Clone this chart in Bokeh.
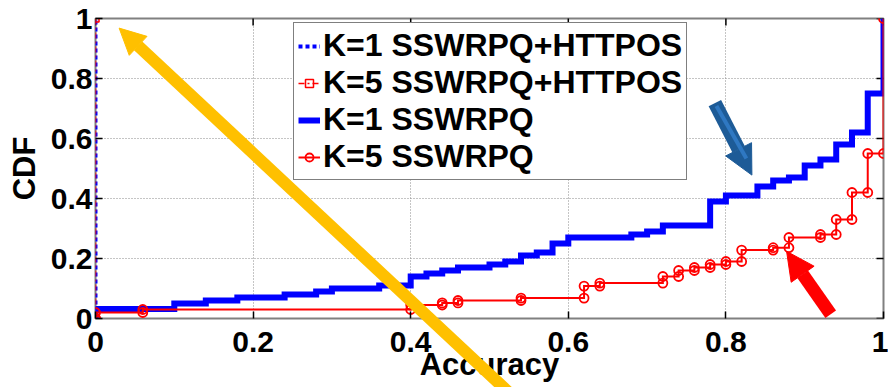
import math
from bokeh.plotting import figure
from bokeh.models import (Range1d, FixedTicker, Legend, LegendItem,
                          Arrow, NormalHead, GridBox, Column)
from bokeh.embed import file_html
from bokeh.resources import INLINE

# ---------------- data ----------------
x_ticks = [0, 0.2, 0.4, 0.6, 0.8, 1.0]
x_tick_labels = ["0", "0.2", "0.4", "0.6", "0.8", "1"]
y_ticks = [0, 0.2, 0.4, 0.6, 0.8, 1.0]
y_tick_labels = ["0", "0.2", "0.4", "0.6", "0.8", "1"]

series_labels = ["K=1 SSWRPQ+HTTPOS", "K=5 SSWRPQ+HTTPOS", "K=1 SSWRPQ", "K=5 SSWRPQ"]

httpos_k1_acc = [0.0, 0.0]
httpos_k1_cdf = [0.0, 1.0]
httpos_k5_acc = [0.0, 0.0]
httpos_k5_cdf = [0.0, 1.0]

k1_acc = [0.0, 0.0, 0.10, 0.14, 0.18, 0.24, 0.28, 0.30, 0.36, 0.40, 0.42, 0.44, 0.46,
          0.50, 0.52, 0.54, 0.56, 0.58, 0.60, 0.68, 0.70, 0.72, 0.78, 0.80, 0.84,
          0.86, 0.88, 0.90, 0.92, 0.94, 0.96, 0.98, 1.0]
k1_cdf = [0.0, 0.032, 0.05, 0.06, 0.07, 0.08, 0.09, 0.10, 0.11, 0.14, 0.15, 0.16, 0.17,
          0.18, 0.19, 0.21, 0.22, 0.25, 0.27, 0.28, 0.29, 0.31, 0.39, 0.41, 0.44,
          0.46, 0.47, 0.51, 0.53, 0.58, 0.62, 0.75, 1.0]

k5_acc = [0.0, 0.0, 0.06, 0.40, 0.44, 0.46, 0.54, 0.62, 0.64, 0.72, 0.74, 0.76,
          0.78, 0.80, 0.82, 0.86, 0.88, 0.92, 0.94, 0.96, 0.98, 1.0]
k5_cdf = [0.0, 0.02, 0.03, 0.045, 0.052, 0.06, 0.068, 0.108, 0.118, 0.14, 0.16, 0.17,
          0.18, 0.19, 0.228, 0.236, 0.27, 0.28, 0.33, 0.42, 0.55, 1.0]

# annotation arrows (start -> end, in data units of the chart)
arrow_yellow = dict(x_start=0.530, y_start=-0.26, x_end=0.030, y_end=0.968)
arrow_blue = dict(x_start=0.786, y_start=0.718, x_end=0.833, y_end=0.478)
arrow_red = dict(x_start=0.933, y_start=0.014, x_end=0.877, y_end=0.224)


def stair_vertices(xs, ys):
    vx, vy = [xs[0]], [ys[0]]
    for i in range(1, len(xs)):
        vx += [xs[i], xs[i]]
        vy += [ys[i - 1], ys[i]]
    return vx, vy


FONT = "Liberation Sans"
W, H = 888, 387
LEFT, RIGHT, TOP, BOTTOM = 95, 5, 18, 69
FW, FH = W - LEFT - RIGHT, H - TOP - BOTTOM

p = figure(width=W, height=H, x_range=Range1d(0, 1), y_range=Range1d(0, 1),
           output_backend="svg", toolbar_location=None,
           min_border_left=LEFT, min_border_right=RIGHT, min_border_top=TOP,
           min_border_bottom=BOTTOM)
p.background_fill_color = "white"
p.border_fill_color = "white"
p.outline_line_color = "#808080"
p.outline_line_width = 2

# axes
for ax, ticks, labels in ((p.xaxis[0], x_ticks, x_tick_labels), (p.yaxis[0], y_ticks, y_tick_labels)):
    ax.ticker = FixedTicker(ticks=ticks)
    ax.major_label_overrides = {float(t): l for t, l in zip(ticks, labels)}
    ax.major_label_text_font = FONT
    ax.major_label_text_font_style = "bold"
    ax.major_label_text_font_size = "30px"
    ax.major_label_text_color = "black"
    ax.axis_label_text_font = FONT
    ax.axis_label_text_font_style = "bold"
    ax.axis_label_text_font_size = "31px"
    ax.axis_label_text_color = "black"
    ax.major_tick_in = 7
    ax.major_tick_out = 0
    ax.major_tick_line_color = "black"
    ax.major_tick_line_width = 1.5
    ax.minor_tick_line_color = None
    ax.axis_line_color = None

p.xaxis.axis_label = "Accuracy"
p.yaxis.axis_label = "CDF"
p.xaxis.major_label_standoff = 13
p.xaxis.axis_label_standoff = -8
p.yaxis.major_label_standoff = 3
p.yaxis.axis_label_standoff = 6

# inward ticks on the top and right edges of the box (half of each dash is clipped away)
p.scatter(x_ticks, [1.0] * len(x_ticks), marker="dash", angle=math.pi / 2, size=14,
          line_color="black", line_width=1.5)
p.scatter([1.0] * len(y_ticks), y_ticks, marker="dash", size=14,
          line_color="black", line_width=1.5)

for g, ticks in ((p.xgrid[0], x_ticks), (p.ygrid[0], y_ticks)):
    g.ticker = FixedTicker(ticks=ticks)
    g.grid_line_color = "#8a8a8a"
    g.grid_line_dash = "1 2"
    g.grid_line_width = 1

# series
r1 = p.line(httpos_k1_acc, httpos_k1_cdf, line_color="blue", line_width=4, line_dash="4 3")

r2 = p.line(httpos_k5_acc, httpos_k5_cdf, line_color="red", line_width=1.5, line_dash="6 3 2 3")
r2m = p.scatter(httpos_k5_acc, httpos_k5_cdf, marker="square", size=7, line_color="red",
                line_width=1.5, fill_alpha=0)

r3 = p.step(k1_acc, k1_cdf, mode="after", line_color="blue", line_width=6, line_join="miter")

r4 = p.step(k5_acc, k5_cdf, mode="after", line_color="red", line_width=2, line_join="miter")
vx, vy = stair_vertices(k5_acc, k5_cdf)
r4m = p.scatter(vx, vy, marker="circle", size=9, line_color="red", line_width=1.8, fill_alpha=0)

legend = Legend(items=[
    LegendItem(label=series_labels[0], renderers=[r1]),
    LegendItem(label=series_labels[1], renderers=[r2, r2m]),
    LegendItem(label=series_labels[2], renderers=[r3]),
    LegendItem(label=series_labels[3], renderers=[r4, r4m]),
], location=(198, 138))
legend.label_text_font = FONT
legend.label_text_font_style = "bold"
legend.label_text_font_size = "32px"
legend.label_text_color = "black"
legend.glyph_width = 22
legend.label_standoff = 3
legend.padding = 4
legend.spacing = 0
legend.margin = 0
legend.border_line_color = "black"
legend.border_line_width = 1.5
legend.background_fill_color = "white"
legend.background_fill_alpha = 1
p.add_layout(legend)

# transparent overlay covering the whole canvas, same data mapping, so arrows are not clipped
ov = figure(width=W, height=H, output_backend="svg", toolbar_location=None,
            x_range=Range1d(-LEFT / FW, (W - LEFT) / FW),
            y_range=Range1d(-BOTTOM / FH, (H - BOTTOM) / FH),
            x_axis_type=None, y_axis_type=None,
            min_border_left=0, min_border_right=0, min_border_top=0, min_border_bottom=0)
ov.background_fill_color = None
ov.border_fill_color = None
ov.outline_line_color = None
ov.xgrid.visible = False
ov.ygrid.visible = False

ov.add_layout(Arrow(end=NormalHead(size=26, fill_color="#FFC000", line_color="#FFC000"),
                    line_color="#FFC000", line_width=12, **arrow_yellow))
ov.add_layout(Arrow(end=NormalHead(size=29, fill_color="#1d5b97", line_color="#1d5b97"),
                    line_color="#1d5b97", line_width=14, **arrow_blue))
ov.add_layout(Arrow(end=None, line_color="#2f78c2", line_width=4,
                    x_start=arrow_blue["x_start"] + 0.002, y_start=arrow_blue["y_start"] - 0.01,
                    x_end=arrow_blue["x_end"] - 0.007, y_end=arrow_blue["y_end"] + 0.055))
ov.add_layout(Arrow(end=NormalHead(size=28, fill_color="red", line_color="red"),
                    line_color="red", line_width=13, **arrow_red))

layout = GridBox(children=[(p, 0, 0), (Column(children=[ov]), 0, 0)])

open("out.html", "w").write(file_html(layout, INLINE))
